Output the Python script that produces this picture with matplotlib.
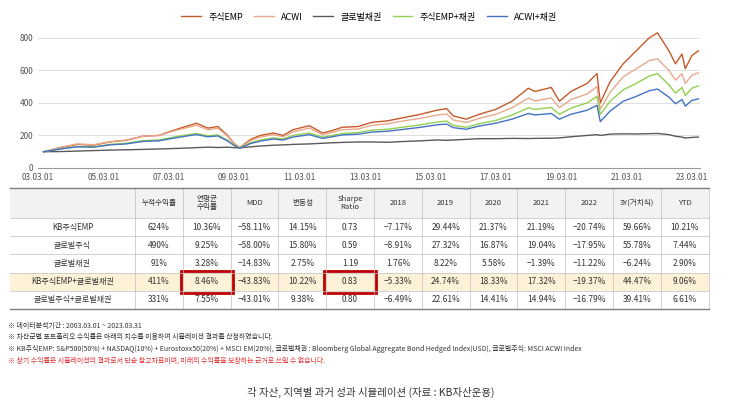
import matplotlib.pyplot as plt
from matplotlib.patches import Rectangle

plt.rcParams["font.family"] = ["Noto Sans CJK JP", "Noto Sans CJK KR", "Noto Sans CJK SC", "DejaVu Sans"]
plt.rcParams["axes.unicode_minus"] = False

# time axis in fractional years
t = [2003.17, 2003.7, 2004.2, 2004.7, 2005.2, 2005.7, 2006.2, 2006.7, 2007.2, 2007.6,
     2007.85, 2008.2, 2008.5, 2008.8, 2009.0, 2009.17, 2009.5, 2009.8, 2010.2, 2010.5,
     2010.8, 2011.3, 2011.7, 2012.0, 2012.3, 2012.8, 2013.2, 2013.7, 2014.2, 2014.7,
     2015.2, 2015.5, 2015.7, 2016.1, 2016.5, 2017.0, 2017.5, 2018.0, 2018.2, 2018.7,
     2018.95, 2019.3, 2019.8, 2020.1, 2020.2, 2020.5, 2020.9, 2021.3, 2021.7, 2021.95,
     2022.3, 2022.5, 2022.7, 2022.8, 2023.0, 2023.2]

emp = [100, 125, 145, 140, 160, 170, 195, 200, 235, 260,
       275, 245, 255, 200, 150, 125, 175, 200, 215, 200,
       235, 260, 215, 230, 250, 255, 280, 290, 310, 330,
       355, 365, 320, 300, 330, 360, 410, 490, 470, 495,
       410, 470, 520, 580, 400, 530, 640, 720, 800, 830,
       720, 640, 700, 610, 690, 720]
acwi = [100, 128, 148, 143, 162, 172, 195, 200, 230, 250,
        262, 235, 245, 195, 148, 122, 168, 190, 205, 192,
        222, 245, 205, 218, 235, 240, 262, 272, 290, 305,
        325, 332, 295, 280, 305, 330, 370, 430, 412, 430,
        370, 420, 455, 500, 360, 465, 560, 610, 660, 670,
        600, 540, 580, 520, 570, 585]
bond = [100, 101, 104, 107, 110, 112, 114, 117, 120, 123,
        125, 128, 126, 128, 125, 124, 130, 135, 140, 142,
        145, 148, 152, 155, 157, 160, 160, 158, 163, 167,
        172, 170, 172, 176, 180, 180, 182, 181, 182, 183,
        185, 192, 200, 205, 200, 208, 210, 209, 211, 212,
        205, 195, 190, 184, 188, 190]
emp_bond = [100, 118, 132, 130, 145, 152, 168, 172, 192, 205,
            212, 198, 203, 170, 140, 122, 155, 172, 185, 178,
            200, 215, 190, 200, 212, 218, 232, 238, 252, 265,
            282, 288, 262, 250, 272, 292, 325, 370, 360, 372,
            330, 368, 400, 440, 330, 410, 480, 520, 565, 580,
            510, 460, 495, 445, 490, 505]
acwi_bond = [100, 117, 130, 128, 142, 148, 163, 167, 185, 198,
             205, 192, 197, 166, 138, 120, 150, 165, 178, 172,
             190, 205, 182, 192, 203, 208, 220, 226, 238, 250,
             265, 270, 248, 238, 258, 275, 300, 335, 326, 335,
             300, 330, 355, 385, 285, 350, 410, 440, 475, 485,
             435, 395, 420, 380, 415, 425]

series_names = ["주식EMP", "ACWI", "글로벌채권", "주식EMP+채권", "ACWI+채권"]
series_vals = [emp, acwi, bond, emp_bond, acwi_bond]
colors = ["#C55A2B", "#E8A98C", "#5A5A5A", "#92D050", "#4472C4"]

xtick_years = list(range(2003, 2024, 2))
xtick_labels = ["%02d.03.01" % (y % 100) for y in xtick_years]

col_labels = ["누적수익률", "연평균\n수익률", "MDD", "변동성", "Sharpe\nRatio", "2018", "2019",
              "2020", "2021", "2022", "3Y(거치식)", "YTD"]
row_labels = ["KB주식EMP", "글로벌주식", "글로벌채권", "KB주식EMP+글로벌채권", "글로벌주식+글로벌채권"]
cells = [
    ["624%", "10.36%", "-58.11%", "14.15%", "0.73", "-7.17%", "29.44%", "21.37%", "21.19%", "-20.74%", "59.66%", "10.21%"],
    ["490%", "9.25%", "-58.00%", "15.80%", "0.59", "-8.91%", "27.32%", "16.87%", "19.04%", "-17.95%", "55.78%", "7.44%"],
    ["91%", "3.28%", "-14.83%", "2.75%", "1.19", "1.76%", "8.22%", "5.58%", "-1.39%", "-11.22%", "-6.24%", "2.90%"],
    ["411%", "8.46%", "-43.83%", "10.22%", "0.83", "-5.33%", "24.74%", "18.33%", "17.32%", "-19.37%", "44.47%", "9.06%"],
    ["331%", "7.55%", "-43.01%", "9.38%", "0.80", "-6.49%", "22.61%", "14.41%", "14.94%", "-16.79%", "39.41%", "6.61%"],
]

notes = [
    ("※ 데이터분석기간 : 2003.03.01 ~ 2023.03.31", "#333333"),
    ("※ 자산군별 포트폴리오 수익률은 아래의 지수를 이용하여 시뮬레이션 결과를 산정하였습니다.", "#333333"),
    ("※ KB주식EMP: S&P500(50%) + NASDAQ(10%) + Eurostoxx50(20%) + MSCI EM(20%), 글로벌채권 : Bloomberg Global Aggregate Bond Hedged Index(USD), 글로벌주식: MSCI ACWI Index", "#333333"),
    ("※ 상기 수익률은 시뮬레이션의 결과로서 단순 참고자료이며, 미래의 수익률을 보장하는 근거로 쓰일 수 없습니다.", "#E03030"),
]

fig = plt.figure(figsize=(7.42, 4.05), dpi=100)

# line chart
ax = fig.add_axes([38 / 742, 1 - 168 / 405, 662 / 742, 140 / 405])
for name, vals, c in zip(series_names, series_vals, colors):
    ax.plot(t, vals, color=c, lw=1.0, label=name)
ax.set_xlim(2003.0, 2023.25)
ax.set_ylim(0, 860)
ax.set_yticks([0, 200, 400, 600, 800])
ax.set_xticks(xtick_years)
ax.set_xticklabels(xtick_labels)
ax.tick_params(labelsize=6, colors="#555555", length=0)
ax.grid(axis="y", color="#d9d9d9", lw=0.6)
ax.set_axisbelow(True)
for s in ["top", "right", "left"]:
    ax.spines[s].set_visible(False)
ax.spines["bottom"].set_color("#999999")
ax.legend(loc="lower center", bbox_to_anchor=(0.5, 1.02), ncol=5, frameon=False,
          fontsize=6.5, handlelength=2.2, columnspacing=1.2, borderaxespad=0)

# table + notes drawn in pixel coordinates
tx = fig.add_axes([0, 0, 1, 1])
tx.set_xlim(0, 742)
tx.set_ylim(405, 0)
tx.axis("off")

x0, lab_w, col_w = 10, 125, 47.8
y0, head_h, row_h = 188, 30, 18.2
x_end = x0 + lab_w + col_w * len(col_labels)
tx.add_patch(Rectangle((x0, y0), x_end - x0, head_h, fc="#F2F2F2", ec="none"))
tx.add_patch(Rectangle((x0, y0 + head_h + 3 * row_h), x_end - x0, row_h, fc="#FDF1D8", ec="none"))
for j, lab in enumerate(col_labels):
    cx = x0 + lab_w + col_w * (j + 0.5)
    tx.text(cx, y0 + head_h / 2, lab, ha="center", va="center", fontsize=5.5, color="#333333", linespacing=1.0)
for i, rl in enumerate(row_labels):
    cy = y0 + head_h + row_h * (i + 0.5)
    tx.text(x0 + lab_w / 2, cy, rl, ha="center", va="center", fontsize=5.8, color="#333333")
    for j, v in enumerate(cells[i]):
        cx = x0 + lab_w + col_w * (j + 0.5)
        tx.text(cx, cy, v.replace("-", "−"), ha="center", va="center", fontsize=6, color="#333333")
y_bot = y0 + head_h + row_h * len(row_labels)
for k in range(len(col_labels) + 1):
    xx = x0 + lab_w + col_w * k
    tx.plot([xx, xx], [y0, y_bot], color="#BFBFBF", lw=0.5)
for i in range(len(row_labels) + 1):
    yy = y0 + head_h + row_h * i
    tx.plot([x0, x_end], [yy, yy], color="#BFBFBF", lw=0.5)
tx.plot([x0, x_end], [y0, y0], color="#7F7F7F", lw=1.0)
tx.plot([x0, x_end], [y_bot, y_bot], color="#7F7F7F", lw=1.0)
# red highlight boxes on 연평균 수익률 and Sharpe Ratio
for j in [1, 4]:
    tx.add_patch(Rectangle((x0 + lab_w + col_w * j - 2, y0 + head_h + 3 * row_h - 2),
                           col_w + 4, row_h + 4, fc="none", ec="#C00000", lw=2))

for k, (txt, c) in enumerate(notes):
    tx.text(8, 326 + 11.5 * k, txt, ha="left", va="center", fontsize=5, color=c)

tx.text(371, 392, "각 자산, 지역별 과거 성과 시뮬레이션 (자료 : KB자산운용)", ha="center", va="center",
        fontsize=7.5, color="#333333")

fig.savefig("out.png", dpi=100)
